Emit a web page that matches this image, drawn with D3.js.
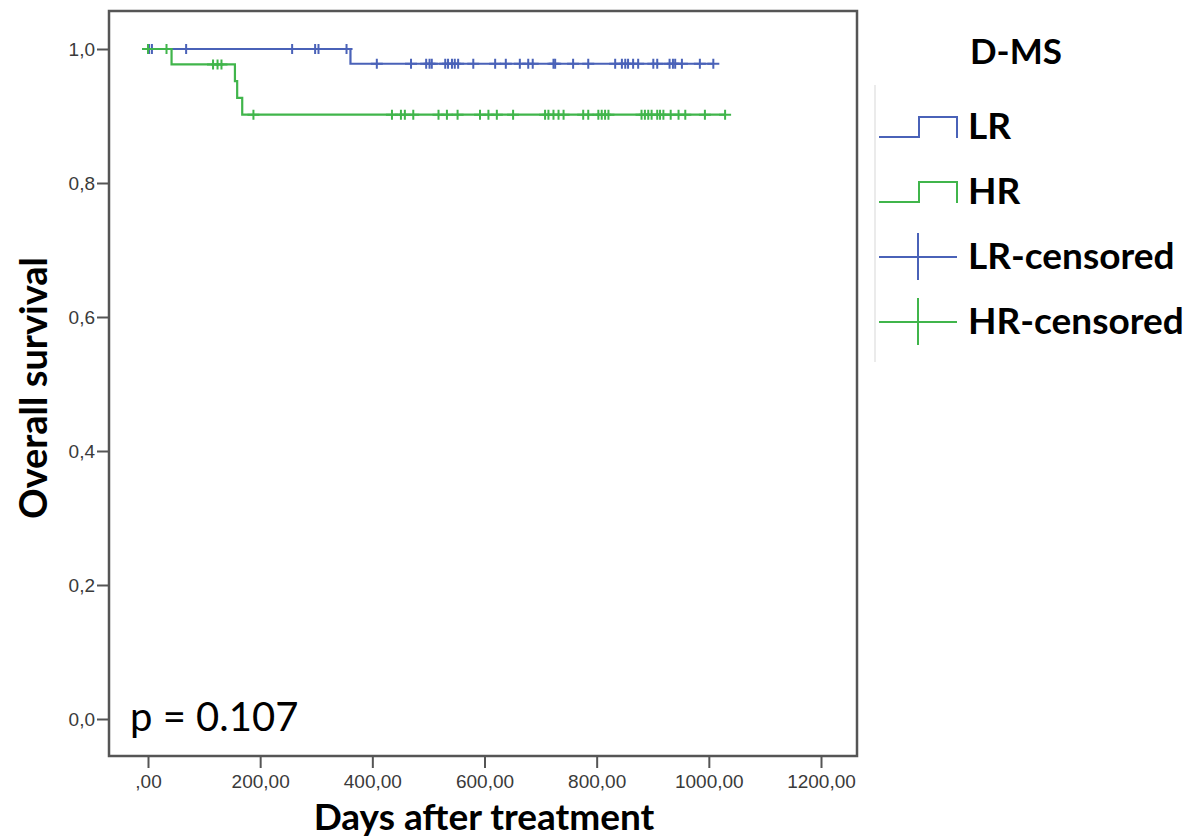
<!DOCTYPE html>
<html>
<head>
<meta charset="utf-8">
<script src="https://cdnjs.cloudflare.com/ajax/libs/d3/7.8.5/d3.min.js"></script>
<style>
  body { margin: 0; background: #fff; }
  .tick text { font-family: "Liberation Sans", Arial, sans-serif; font-size: 19px; fill: #3a3a3a; }
  .tick line { stroke: #555; stroke-width: 2; }
</style>
</head>
<body>
<div id="chart"></div>
<script>
var width = 1196,
    height = 839;

// events: [day, survival after event]
var lrEvents = [[361, 0.978]];
var hrEvents = [[42, 0.977], [155, 0.952], [159, 0.927], [168, 0.902]];

// censored observations (days)
var lrCensored = [2, 7, 68, 257, 298, 304, 354, 408, 469, 496, 502, 506, 530, 535, 542, 547, 553,
  580, 619, 638, 663, 678, 686, 723, 726, 758, 785, 833, 845, 851, 856, 865, 874, 901, 908,
  930, 936, 940, 952, 984, 1008];
var hrCensored = [0, 33, 116, 124, 131, 188, 435, 451, 458, 473, 518, 533, 552, 592, 607, 622, 651,
  708, 714, 723, 732, 741, 776, 785, 803, 809, 815, 821, 880, 886, 892, 898, 908, 913, 919,
  932, 946, 958, 993, 1029];

var xTicks = [0, 200, 400, 600, 800, 1000, 1200];
var yTicks = [0, 0.2, 0.4, 0.6, 0.8, 1.0];

var groups = [
  {name: "LR", events: lrEvents, censored: lrCensored, color: "#4a62b8"},
  {name: "HR", events: hrEvents, censored: hrCensored, color: "#40b54b"}
];

var frame = {left: 109, top: 11, right: 857, bottom: 756};

var x = d3.scaleLinear().domain([0, 1200]).range([148, 821]);
var y = d3.scaleLinear().domain([0, 1]).range([719, 49]);

var svg = d3.select("#chart").append("svg")
    .attr("width", width)
    .attr("height", height);

function survivalAt(events, t) {
  var s = 1;
  events.forEach(function(e) { if (e[0] <= t) s = e[1]; });
  return s;
}

var line = d3.line()
    .x(function(d) { return x(d[0]); })
    .y(function(d) { return y(d[1]); })
    .curve(d3.curveStepAfter);

groups.forEach(function(g) {
  var last = d3.max(g.censored);
  var pts = [[0, 1]].concat(g.events);
  pts.push([last, survivalAt(g.events, last)]);

  svg.append("path")
    .attr("d", line(pts))
    .attr("fill", "none")
    .attr("stroke", g.color)
    .attr("stroke-width", 2.2);

  svg.selectAll(".cens-" + g.name)
    .data(g.censored).enter()
    .append("path")
    .attr("class", "cens-" + g.name)
    .attr("d", function(d) {
      var cx = x(d), cy = y(survivalAt(g.events, d));
      return "M" + (cx - 6) + "," + cy + "H" + (cx + 6) + "M" + cx + "," + (cy - 5) + "V" + (cy + 5);
    })
    .attr("stroke", g.color)
    .attr("stroke-width", 2)
    .attr("fill", "none");
});

// frame
svg.append("rect")
  .attr("x", frame.left)
  .attr("y", frame.top)
  .attr("width", frame.right - frame.left)
  .attr("height", frame.bottom - frame.top)
  .attr("fill", "none")
  .attr("stroke", "#555")
  .attr("stroke-width", 2.5);

// axes
var xAxis = svg.append("g")
  .attr("transform", "translate(0," + frame.bottom + ")")
  .call(d3.axisBottom(x).tickValues(xTicks).tickSize(12).tickPadding(7)
    .tickFormat(function(d) { return d === 0 ? ",00" : d + ",00"; }));
xAxis.select(".domain").remove();

var yAxis = svg.append("g")
  .attr("transform", "translate(" + frame.left + ",0)")
  .call(d3.axisLeft(y).tickValues(yTicks).tickSize(12).tickPadding(2)
    .tickFormat(function(d) { return d3.format(".1f")(d).replace(".", ","); }));
yAxis.select(".domain").remove();

// axis titles
svg.append("text")
  .attr("x", 484)
  .attr("y", 830)
  .attr("text-anchor", "middle")
  .style("font-family", "Lato, sans-serif")
  .style("font-weight", "bold")
  .style("font-size", "37px")
  .text("Days after treatment");

svg.append("text")
  .attr("transform", "translate(47,388) rotate(-90)")
  .attr("text-anchor", "middle")
  .style("font-family", "Lato, sans-serif")
  .style("font-weight", "bold")
  .style("font-size", "38px")
  .text("Overall survival");

svg.append("text")
  .attr("x", 130)
  .attr("y", 731)
  .style("font-family", "Lato, sans-serif")
  .style("font-size", "40px")
  .text("p = 0.107");

// legend
svg.append("line")
  .attr("x1", 875).attr("x2", 875)
  .attr("y1", 85).attr("y2", 362)
  .attr("stroke", "#e4e4e4")
  .attr("stroke-width", 1.5);

svg.append("text")
  .attr("x", 970)
  .attr("y", 64)
  .style("font-family", "Lato, sans-serif")
  .style("font-weight", "bold")
  .style("font-size", "35px")
  .text("D-MS");

var legendItems = [
  {label: "LR", color: "#4a62b8", type: "step", cy: 127},
  {label: "HR", color: "#40b54b", type: "step", cy: 192},
  {label: "LR-censored", color: "#4a62b8", type: "cross", cy: 257},
  {label: "HR-censored", color: "#40b54b", type: "cross", cy: 322}
];

var leg = svg.selectAll(".legend")
  .data(legendItems).enter()
  .append("g")
  .attr("class", "legend")
  .attr("transform", function(d) { return "translate(0," + d.cy + ")"; });

leg.append("path")
  .attr("d", function(d) {
    if (d.type === "step") return "M879,10H919V-10H957V11";
    return "M879,0H957M918,-24V23";
  })
  .attr("fill", "none")
  .attr("stroke", function(d) { return d.color; })
  .attr("stroke-width", 2);

leg.append("text")
  .attr("x", 968)
  .attr("y", 12)
  .style("font-family", "Lato, sans-serif")
  .style("font-weight", "bold")
  .style("font-size", "37px")
  .text(function(d) { return d.label; });
</script>
</body>
</html>
